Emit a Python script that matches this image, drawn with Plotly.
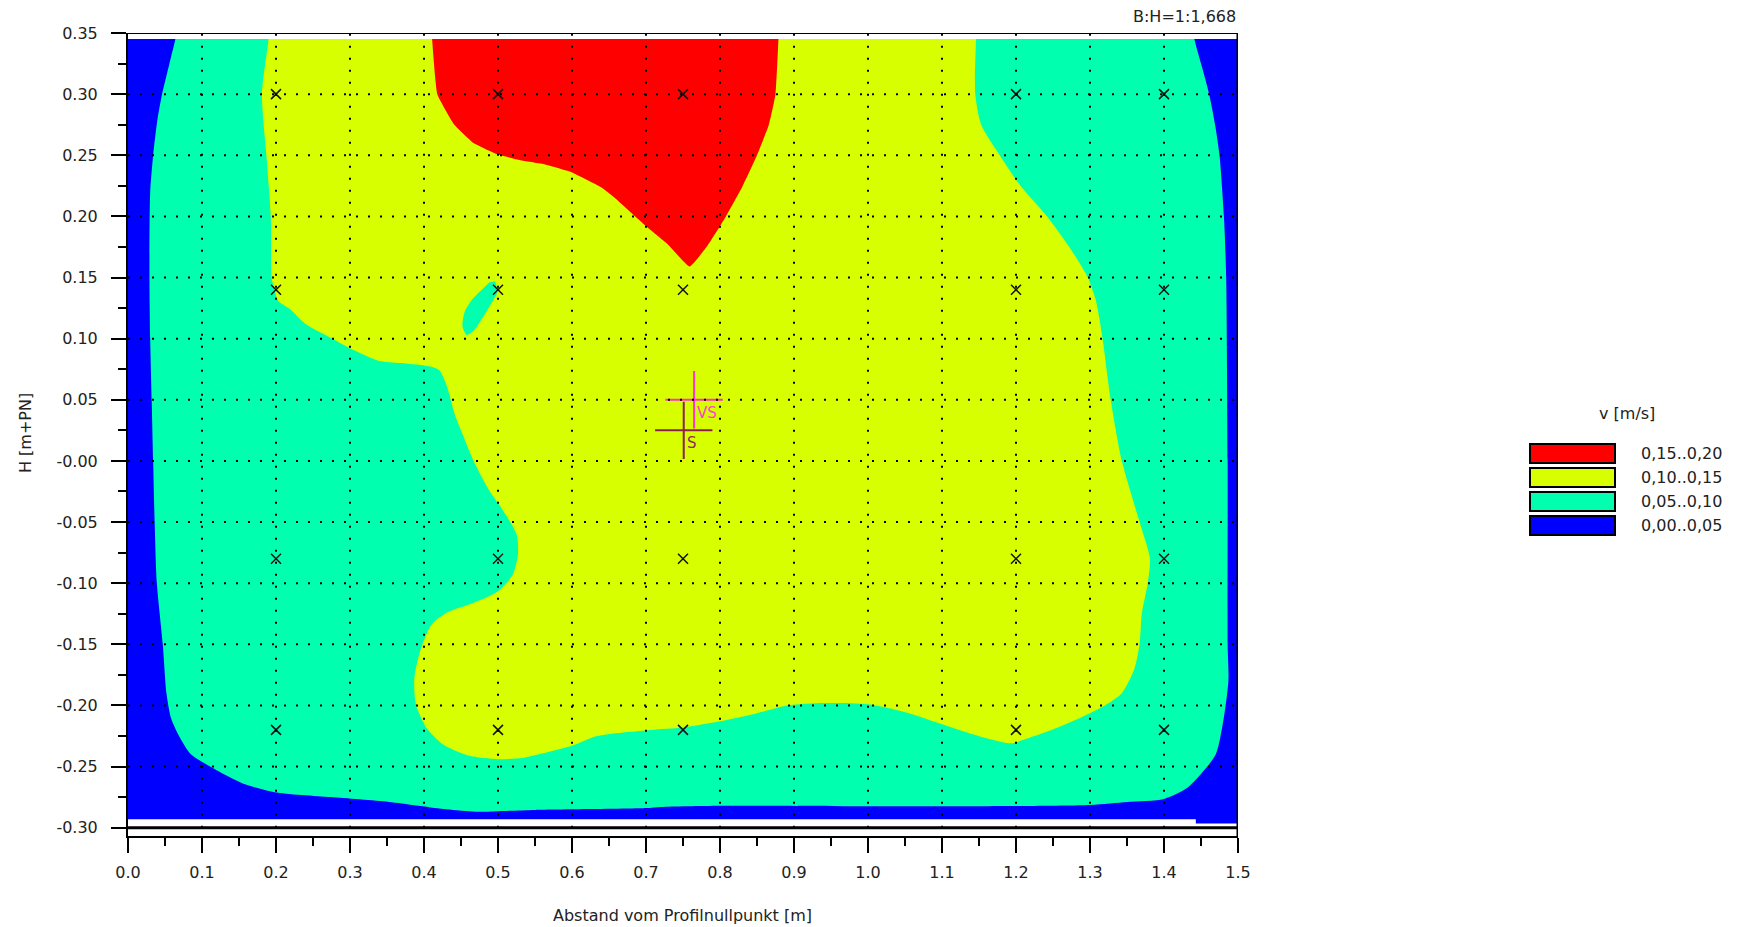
import plotly.graph_objects as go

# ---------------------------------------------------------------------------
# Velocity classes (isotach bands) and their colours
class_labels = ["0,15..0,20", "0,10..0,15", "0,05..0,10", "0,00..0,05"]
class_colors = ["#ff0000", "#d8ff00", "#00ffaf", "#0000ff"]

# Measurement verticals [m] and measuring depths [m+PN]
meas_x = [0.2, 0.5, 0.75, 1.2, 1.4]
meas_y = [0.30, 0.14, -0.08, -0.22]

# Wetted cross-section (lowest class fills the whole section)
area_x = [0.0, 1.443, 1.443, 1.5, 1.5, 0.0]
area_y = [-0.293, -0.293, -0.2965, -0.2965, 0.345, 0.345]
water_top = 0.345

# Isotach v = 0.05 m/s (runs up to the top of the section)
iso005_x = [0.066, 0.064, 0.058, 0.052, 0.046, 0.040, 0.034, 0.030, 0.029, 0.030, 0.032,
            0.034, 0.036, 0.039, 0.047, 0.052, 0.058, 0.069, 0.085, 0.111, 0.135,
            0.156, 0.198, 0.274, 0.353, 0.430, 0.470, 0.500, 0.550, 0.700, 0.720,
            0.800, 1.050, 1.300, 1.350, 1.400, 1.430, 1.450, 1.470, 1.480, 1.487,
            1.486, 1.486, 1.484, 1.481, 1.475, 1.469, 1.461, 1.450, 1.441, 1.437]
iso005_y = [0.360, 0.345, 0.330, 0.315, 0.300, 0.280, 0.250, 0.220, 0.150, 0.100, 0.050,
            0.000, -0.050, -0.100, -0.150, -0.190, -0.210, -0.225, -0.240, -0.250, -0.258,
            -0.264, -0.271, -0.275, -0.279, -0.285, -0.287, -0.2865, -0.2855, -0.284, -0.283,
            -0.282, -0.2825, -0.2814, -0.279, -0.2765, -0.268, -0.256, -0.240, -0.213, -0.180,
            -0.150, 0.000, 0.150, 0.200, 0.250, 0.275, 0.300, 0.325, 0.345, 0.360]

# Isotach v = 0.10 m/s
iso010_x = [1.147, 1.146, 1.145, 1.153, 1.178, 1.206, 1.242, 1.272, 1.297, 1.308,
            1.317, 1.328, 1.343, 1.367, 1.381, 1.378, 1.370, 1.367, 1.360, 1.343,
            1.320, 1.287, 1.248, 1.210, 1.194, 1.155, 1.098, 1.053, 1.000, 0.941,
            0.891, 0.846, 0.800, 0.750, 0.706, 0.634, 0.600, 0.555, 0.533, 0.500,
            0.460, 0.426, 0.403, 0.389, 0.387, 0.395, 0.410, 0.431, 0.467, 0.499,
            0.520, 0.527, 0.525, 0.504, 0.488, 0.467, 0.452, 0.441, 0.431, 0.421,
            0.410, 0.369, 0.338, 0.307, 0.276, 0.240, 0.219, 0.203, 0.198, 0.194,
            0.193, 0.187, 0.181, 0.190, 0.192]
iso010_y = [0.360, 0.345, 0.300, 0.275, 0.250, 0.225, 0.200, 0.175, 0.150, 0.131,
            0.100, 0.050, 0.000, -0.050, -0.080, -0.100, -0.125, -0.150, -0.170, -0.190,
            -0.200, -0.210, -0.220, -0.228, -0.231, -0.226, -0.215, -0.206, -0.199, -0.198,
            -0.200, -0.207, -0.213, -0.218, -0.220, -0.225, -0.233, -0.240, -0.243, -0.244,
            -0.241, -0.232, -0.218, -0.199, -0.177, -0.155, -0.134, -0.124, -0.116, -0.107,
            -0.093, -0.076, -0.060, -0.038, -0.024, 0.000, 0.022, 0.039, 0.061, 0.074,
            0.077, 0.080, 0.082, 0.090, 0.100, 0.112, 0.124, 0.131, 0.140, 0.150,
            0.200, 0.250, 0.300, 0.345, 0.360]

# Small pocket below 0.10 m/s inside the 0.10 isotach
pocket_x = [0.496, 0.499, 0.490, 0.478, 0.468, 0.458, 0.452, 0.455, 0.465, 0.478, 0.488]
pocket_y = [0.147, 0.138, 0.128, 0.116, 0.107, 0.103, 0.110, 0.122, 0.132, 0.140, 0.146]

# Isotach v = 0.15 m/s
iso015_x = [0.880, 0.879, 0.875, 0.866, 0.850, 0.830, 0.808, 0.783, 0.759, 0.728,
            0.700, 0.656, 0.639, 0.600, 0.560, 0.530, 0.498, 0.467, 0.441, 0.418,
            0.411, 0.410]
iso015_y = [0.360, 0.345, 0.300, 0.275, 0.250, 0.224, 0.200, 0.176, 0.159, 0.178,
            0.192, 0.216, 0.224, 0.236, 0.243, 0.246, 0.251, 0.260, 0.275, 0.300,
            0.345, 0.360]

# Centroid of area (S) and of velocity (VS)
s_point = [0.751, 0.025]
vs_point = [0.765, 0.050]

# Axis ticks
x_tick_vals = [0.0, 0.1, 0.2, 0.3, 0.4, 0.5, 0.6, 0.7, 0.8, 0.9, 1.0, 1.1, 1.2, 1.3, 1.4, 1.5]
x_tick_text = ["0.0", "0.1", "0.2", "0.3", "0.4", "0.5", "0.6", "0.7",
               "0.8", "0.9", "1.0", "1.1", "1.2", "1.3", "1.4", "1.5"]
y_tick_vals = [0.35, 0.30, 0.25, 0.20, 0.15, 0.10, 0.05, 0.0,
               -0.05, -0.10, -0.15, -0.20, -0.25, -0.30]
y_tick_text = ["0.35", "0.30", "0.25", "0.20", "0.15", "0.10", "0.05", "-0.00",
               "-0.05", "-0.10", "-0.15", "-0.20", "-0.25", "-0.30"]

# ---------------------------------------------------------------------------
W, H = 1747, 927
ML, MR, MT, MB = 128, 509, 33, 91
PW, PH = W - ML - MR, H - MT - MB
X_MIN, X_MAX = 0.0, 1.5
Y_MIN, Y_MAX = -0.3068, 0.35

FONT = "DejaVu Sans"
TXT = "#222222"


def px_x(px):
    return (px - ML) / PW


def px_y(py):
    return (H - MB - py) / PH


fig = go.Figure()

fig.add_trace(go.Scatter(
    x=area_x, y=area_y, mode="lines", fill="toself", fillcolor=class_colors[3],
    line=dict(width=0, color=class_colors[3]), hoverinfo="skip", showlegend=False))

# (outline x, outline y, colour, spline smoothing)
bands = [
    (iso005_x, iso005_y, class_colors[2], 0.7),
    (iso010_x, iso010_y, class_colors[1], 0.7),
    (pocket_x, pocket_y, class_colors[2], 0.7),
    (iso015_x, iso015_y, class_colors[0], 0.35),
]
for bx, by, col, smooth in bands:
    fig.add_trace(go.Scatter(
        x=bx, y=by, mode="lines", fill="toself", fillcolor=col,
        line=dict(width=0, color=col, shape="spline", smoothing=smooth),
        hoverinfo="skip", showlegend=False))

# measuring points
mx = [x for y in meas_y for x in meas_x]
my = [y for y in meas_y for x in meas_x]
fig.add_trace(go.Scatter(
    x=mx, y=my, mode="markers", hoverinfo="skip", showlegend=False,
    marker=dict(symbol="x-thin", size=10, line=dict(width=1.5, color="#111111"))))

# centroid crosses
fig.add_trace(go.Scatter(
    x=[vs_point[0]], y=[vs_point[1]], mode="markers", hoverinfo="skip", showlegend=False,
    marker=dict(symbol="cross-thin", size=41, line=dict(width=2, color="#ff33cc"))))
fig.add_trace(go.Scatter(
    x=[s_point[0]], y=[s_point[1]], mode="markers", hoverinfo="skip", showlegend=False,
    marker=dict(symbol="cross-thin", size=41, line=dict(width=2, color="#8b1f50"))))

shapes = []
# free-board strip above the water surface
shapes.append(dict(type="rect", xref="x", yref="y", x0=X_MIN, x1=X_MAX,
                   y0=water_top, y1=Y_MAX, fillcolor="white", line=dict(width=0),
                   layer="above"))
dotted = dict(color="black", width=2, dash="2px,10px")
for gx in x_tick_vals[1:-1]:
    shapes.append(dict(type="line", xref="x", yref="y", x0=gx, x1=gx,
                       y0=-0.30, y1=Y_MAX, line=dotted, layer="above"))
for gy in y_tick_vals[1:-1]:
    shapes.append(dict(type="line", xref="x", yref="y", x0=X_MIN, x1=X_MAX,
                       y0=gy, y1=gy, line=dotted, layer="above"))
# section floor line, right frame and top frame
shapes.append(dict(type="line", xref="x", yref="y", x0=X_MIN, x1=X_MAX, y0=-0.30, y1=-0.30,
                   line=dict(color="black", width=3), layer="above"))
shapes.append(dict(type="line", xref="x", yref="y", x0=X_MAX, x1=X_MAX, y0=Y_MIN, y1=Y_MAX,
                   line=dict(color="black", width=3), layer="above"))
shapes.append(dict(type="line", xref="x", yref="y", x0=X_MIN, x1=X_MAX, y0=Y_MAX, y1=Y_MAX,
                   line=dict(color="black", width=2), layer="above"))

# legend boxes
box_x0, box_x1 = 1530, 1615
box_top0, box_h, box_pitch = 444, 19, 24
annotations = []
for i, (lab, col) in enumerate(zip(class_labels, class_colors)):
    top = box_top0 + i * box_pitch
    shapes.append(dict(type="rect", xref="paper", yref="paper",
                       x0=px_x(box_x0), x1=px_x(box_x1),
                       y0=px_y(top + box_h), y1=px_y(top),
                       fillcolor=col, line=dict(color="black", width=2), layer="above"))
    annotations.append(dict(xref="paper", yref="paper", x=px_x(1639), y=px_y(top + box_h / 2),
                            text=lab, showarrow=False, xanchor="left", yanchor="middle",
                            font=dict(family=FONT, size=16, color=TXT)))
annotations.append(dict(xref="paper", yref="paper", x=px_x(1627), y=px_y(413),
                        text="v [m/s]", showarrow=False, xanchor="center", yanchor="middle",
                        font=dict(family=FONT, size=16, color=TXT)))

# scale note, axis titles
annotations.append(dict(xref="paper", yref="paper", x=px_x(1238), y=px_y(17),
                        text="B:H=1:1,668", showarrow=False, xanchor="right", yanchor="middle",
                        font=dict(family=FONT, size=16, color=TXT)))
annotations.append(dict(xref="paper", yref="paper", x=px_x(682), y=px_y(915),
                        text="Abstand vom Profilnullpunkt [m]", showarrow=False,
                        xanchor="center", yanchor="middle",
                        font=dict(family=FONT, size=16, color=TXT)))
annotations.append(dict(xref="paper", yref="paper", x=px_x(25), y=px_y(433),
                        text="H [m+PN]", showarrow=False, textangle=-90,
                        xanchor="center", yanchor="middle",
                        font=dict(family=FONT, size=16, color=TXT)))

# centroid labels
annotations.append(dict(xref="x", yref="y", x=vs_point[0], y=vs_point[1], text="VS",
                        showarrow=False, xanchor="left", yanchor="middle", xshift=1, yshift=-13,
                        font=dict(family=FONT, size=15, color="#ff40c8")))
annotations.append(dict(xref="x", yref="y", x=s_point[0], y=s_point[1], text="S",
                        showarrow=False, xanchor="left", yanchor="middle", xshift=1, yshift=-13,
                        font=dict(family=FONT, size=15, color="#8b2a55")))

fig.update_layout(
    width=W, height=H,
    margin=dict(l=ML, r=MR, t=MT, b=MB, pad=0),
    paper_bgcolor="white", plot_bgcolor="white",
    showlegend=False,
    shapes=shapes, annotations=annotations,
    font=dict(family=FONT, size=16, color=TXT),
)
fig.update_xaxes(
    range=[X_MIN, X_MAX], showgrid=False, zeroline=False,
    showline=True, linecolor="black", linewidth=2, mirror=False,
    tickmode="array", tickvals=x_tick_vals, ticktext=x_tick_text,
    ticks="outside", ticklen=15, tickwidth=2, tickcolor="black",
    ticklabelstandoff=6,
    tickfont=dict(family=FONT, size=16, color=TXT),
    minor=dict(tickmode="linear", tick0=0, dtick=0.05, ticks="outside",
               ticklen=8, tickwidth=2, tickcolor="black", showgrid=False),
)
fig.update_yaxes(
    range=[Y_MIN, Y_MAX], showgrid=False, zeroline=False,
    showline=True, linecolor="black", linewidth=2, mirror=False,
    tickmode="array", tickvals=y_tick_vals, ticktext=y_tick_text,
    ticks="outside", ticklen=15, tickwidth=2, tickcolor="black",
    ticklabelstandoff=10,
    tickfont=dict(family=FONT, size=16, color=TXT),
    minor=dict(tickmode="linear", tick0=0, dtick=0.025, ticks="outside",
               ticklen=8, tickwidth=2, tickcolor="black", showgrid=False),
)

fig.write_html("out.html")
